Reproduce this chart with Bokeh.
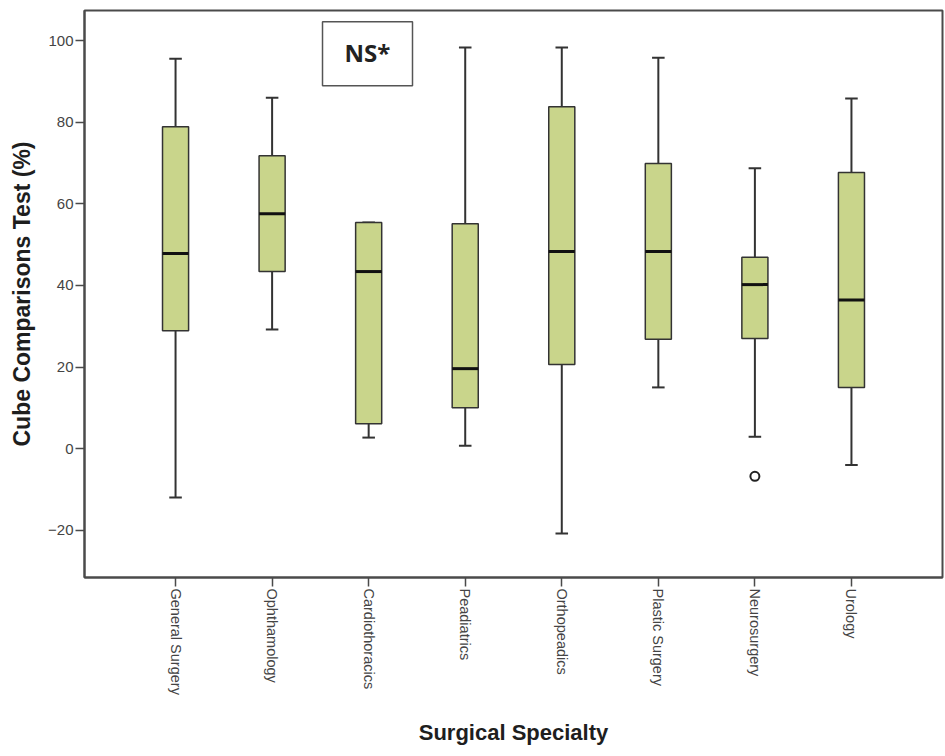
import math
from bokeh.plotting import figure
from bokeh.models import FactorRange, Range1d, FixedTicker, ColumnDataSource
from bokeh.transform import dodge
from bokeh.core.properties import value
from bokeh.embed import file_html
from bokeh.resources import INLINE

# Cube Comparisons Test scores (%) by surgical specialty
specialties = ["General Surgery", "Ophthamology", "Cardiothoracics", "Peadiatrics",
               "Orthopeadics", "Plastic Surgery", "Neurosurgery", "Urology"]
whisker_low = [-12.0, 29.2, 2.7, 0.7, -20.8, 15.0, 2.9, -4.0]
q1 = [28.9, 43.4, 6.1, 10.0, 20.6, 26.8, 27.0, 15.0]
median = [47.8, 57.6, 43.4, 19.6, 48.3, 48.3, 40.2, 36.4]
q3 = [78.9, 71.8, 55.4, 55.1, 83.8, 69.9, 46.9, 67.7]
whisker_high = [95.6, 86.0, 55.4, 98.3, 98.3, 95.8, 68.7, 85.8]

outlier_specialty = ["Neurosurgery"]
outlier_value = [-6.8]

y_ticks = [-20, 0, 20, 40, 60, 80, 100]

FILL = "#c9d58b"
EDGE = "#333333"
BOX_W = 0.27
CAP_W = 0.13

src = ColumnDataSource(dict(cat=specialties, lo=whisker_low, q1=q1, med=median,
                            q3=q3, hi=whisker_high))

p = figure(width=945, height=756,
           x_range=FactorRange(*specialties, range_padding=0.443,
                               range_padding_units="absolute"),
           y_range=Range1d(-31.6, 107.4),
           output_backend="svg", toolbar_location=None,
           min_border_left=84, min_border_right=3,
           min_border_top=10, min_border_bottom=179,
           background_fill_color="white", border_fill_color="white")

p.outline_line_color = "#4a4a4a"
p.outline_line_width = 2
p.grid.visible = False

# whiskers
p.segment(x0="cat", y0="q3", x1="cat", y1="hi", source=src, line_color="#333333", line_width=2)
p.segment(x0="cat", y0="q1", x1="cat", y1="lo", source=src, line_color="#333333", line_width=2)
p.segment(x0=dodge("cat", -CAP_W / 2, range=p.x_range), y0="hi",
          x1=dodge("cat", CAP_W / 2, range=p.x_range), y1="hi",
          source=src, line_color="#333333", line_width=2)
p.segment(x0=dodge("cat", -CAP_W / 2, range=p.x_range), y0="lo",
          x1=dodge("cat", CAP_W / 2, range=p.x_range), y1="lo",
          source=src, line_color="#333333", line_width=2)

# boxes
p.vbar(x="cat", bottom="q1", top="q3", width=BOX_W, source=src,
       fill_color=FILL, line_color=EDGE, line_width=1.5)

# medians
p.segment(x0=dodge("cat", -BOX_W / 2, range=p.x_range), y0="med",
          x1=dodge("cat", BOX_W / 2, range=p.x_range), y1="med",
          source=src, line_color="#111111", line_width=3)

# outlier
p.scatter(x=outlier_specialty, y=outlier_value, marker="circle", size=9,
          fill_color="white", line_color="#222222", line_width=2)

# significance note
p.quad(left=[2.022], right=[2.954], bottom=[88.97], top=[104.66],
       fill_color="white", line_color="#555555", line_width=1.5)
p.text(x=[2.488], y=[97.2], text=["NS*"], text_font=value("Open Sans"),
       text_font_style="bold", text_font_size="24px", text_color="#222222",
       text_align="center", text_baseline="middle")

# axes
p.yaxis.ticker = FixedTicker(ticks=y_ticks)
for ax in (p.xaxis[0], p.yaxis[0]):
    ax.axis_line_color = "#4a4a4a"
    ax.axis_line_width = 2
    ax.major_tick_line_color = "#4a4a4a"
    ax.major_tick_line_width = 1.5
    ax.major_tick_out = 9
    ax.major_tick_in = 0
    ax.minor_tick_out = 0
    ax.minor_tick_in = 0
    ax.major_label_standoff = 2
    ax.major_label_text_font = "Liberation Sans"
    ax.major_label_text_color = "#444444"
    ax.axis_label_text_font = "Liberation Sans"
    ax.axis_label_text_font_style = "bold"
    ax.axis_label_text_color = "#1e1e1e"

p.yaxis.axis_label = "Cube Comparisons Test (%)"
p.yaxis.axis_label_text_font_size = "23px"
p.yaxis.axis_label_standoff = 10
p.yaxis.major_label_text_font_size = "15px"

p.xaxis.axis_label = "Surgical Specialty"
p.xaxis.axis_label_text_font_size = "22px"
p.xaxis.axis_label_standoff = 22
p.xaxis.major_label_text_font_size = "14.5px"
p.xaxis.major_label_orientation = -math.pi / 2

open("out.html", "w").write(file_html(p, INLINE))
